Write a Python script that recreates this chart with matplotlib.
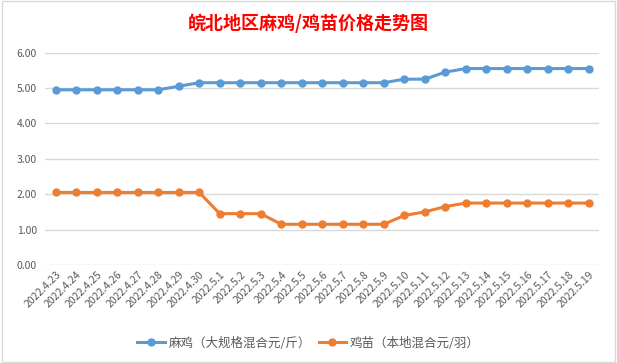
import matplotlib.pyplot as plt
from matplotlib.patches import Rectangle

plt.rcParams['font.family'] = ['Noto Sans CJK SC', 'DejaVu Sans']

# dates on the category axis
dates = ['2022.4.23', '2022.4.24', '2022.4.25', '2022.4.26', '2022.4.27',
         '2022.4.28', '2022.4.29', '2022.4.30', '2022.5.1', '2022.5.2',
         '2022.5.3', '2022.5.4', '2022.5.5', '2022.5.6', '2022.5.7',
         '2022.5.8', '2022.5.9', '2022.5.10', '2022.5.11', '2022.5.12',
         '2022.5.13', '2022.5.14', '2022.5.15', '2022.5.16', '2022.5.17',
         '2022.5.18', '2022.5.19']

# 麻鸡 price (yuan / jin)
maji = [4.95, 4.95, 4.95, 4.95, 4.95, 4.95, 5.05, 5.15, 5.15, 5.15,
        5.15, 5.15, 5.15, 5.15, 5.15, 5.15, 5.15, 5.25, 5.25, 5.45,
        5.55, 5.55, 5.55, 5.55, 5.55, 5.55, 5.55]

# 鸡苗 price (yuan / each)
jimiao = [2.05, 2.05, 2.05, 2.05, 2.05, 2.05, 2.05, 2.05, 1.45, 1.45,
          1.45, 1.15, 1.15, 1.15, 1.15, 1.15, 1.15, 1.40, 1.50, 1.65,
          1.75, 1.75, 1.75, 1.75, 1.75, 1.75, 1.75]

yticks = [0, 1, 2, 3, 4, 5, 6]

fig = plt.figure(figsize=(6.17, 3.63), dpi=100)
fig.patches.append(Rectangle((0.004, 0.004), 0.992, 0.992, transform=fig.transFigure,
                             fill=False, edgecolor='#D9D9D9', lw=1))
ax = fig.add_axes([0.0736, 0.270, 0.8974, 0.585])

x = range(len(dates))
ax.plot(x, maji, color='#5B9BD5', lw=2.2, marker='o', ms=5,
        label='麻鸡（大规格混合元/斤）', zorder=3)
ax.plot(x, jimiao, color='#ED7D31', lw=2.2, marker='o', ms=5,
        label='鸡苗（本地混合元/羽）', zorder=3)

ax.set_xlim(-0.5, len(dates) - 0.5)
ax.set_ylim(0, 6)
ax.set_yticks(yticks)
ax.set_yticklabels(['%.2f' % v for v in yticks])
ax.set_xticks(list(x))
ax.set_xticklabels(dates, rotation=45, ha='right', rotation_mode='anchor')
ax.tick_params(axis='both', length=0, labelsize=7.5, labelcolor='#595959')
ax.tick_params(axis='x', pad=3)
ax.tick_params(axis='y', pad=6)
ax.grid(axis='y', color='#D9D9D9', lw=1)
ax.set_axisbelow(True)
for s in ax.spines.values():
    s.set_visible(False)

fig.text(0.5, 0.935, '皖北地区麻鸡/鸡苗价格走势图', ha='center', va='center',
         color='#FF0000', fontsize=13, fontweight='bold')

fig.legend(loc='center', bbox_to_anchor=(0.5, 0.055), ncol=2, frameon=False,
           fontsize=9, labelcolor='#595959', handlelength=2.2, columnspacing=0.6,
           handletextpad=0.3)

fig.savefig('out.png', dpi=100)
